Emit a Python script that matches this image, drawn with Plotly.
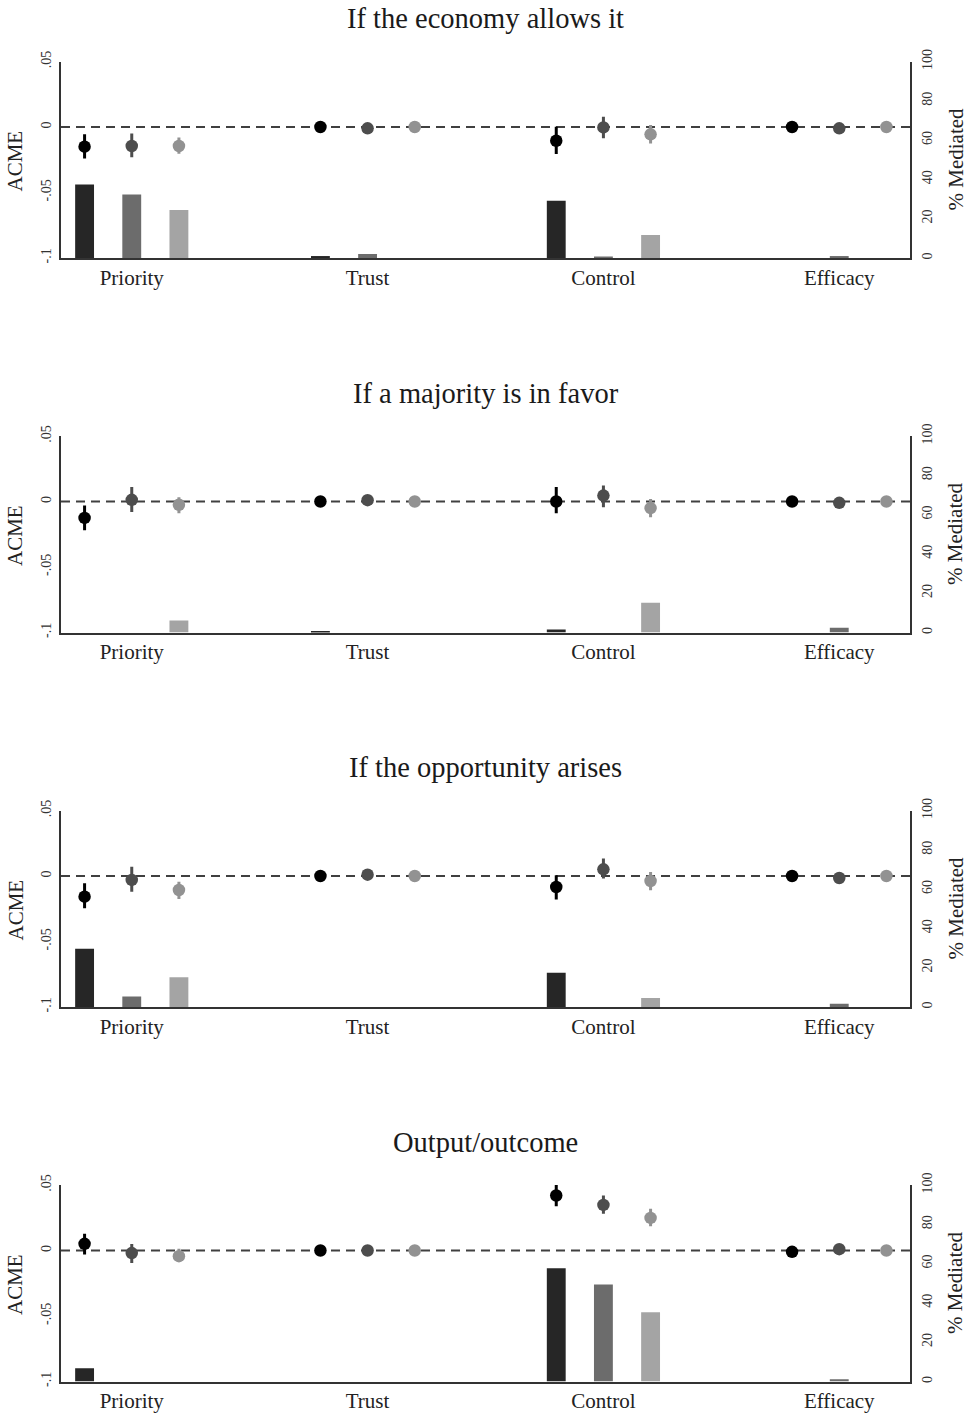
import plotly.graph_objects as go

# ---------------- data ----------------
panel_titles = ["If the economy allows it", "If a majority is in favor",
                "If the opportunity arises", "Output/outcome"]
categories = ["Priority", "Trust", "Control", "Efficacy"]
series_names = ["Model 1", "Model 2", "Model 3"]

# ACME estimates / lower / upper / % mediated  (rows = series black, dark, light; cols = categories)
econ_est = [[-0.015, 0.000, -0.0105, 0.000],
            [-0.0145, -0.001, -0.0003, -0.001],
            [-0.0145, 0.000, -0.0056, 0.000]]
econ_lo = [[-0.024, -0.001, -0.0206, -0.001],
           [-0.023, -0.002, -0.0086, -0.002],
           [-0.0205, -0.001, -0.0125, -0.001]]
econ_hi = [[-0.0056, 0.001, 0.0002, 0.001],
           [-0.005, 0.000, 0.0079, 0.000],
           [-0.008, 0.001, 0.0015, 0.001]]
econ_pct = [[37.4, 1.0, 29.1, 0.0],
            [32.3, 2.0, 0.7, 1.0],
            [24.4, 0.0, 11.7, 0.0]]

major_est = [[-0.0125, 0.000, 0.000, 0.000],
             [0.0013, 0.001, 0.0045, -0.001],
             [-0.0025, 0.000, -0.005, 0.000]]
major_lo = [[-0.022, -0.001, -0.009, -0.001],
            [-0.008, 0.000, -0.0043, -0.002],
            [-0.009, -0.001, -0.012, -0.001]]
major_hi = [[-0.003, 0.001, 0.011, 0.001],
            [0.011, 0.002, 0.0122, 0.000],
            [0.0033, 0.001, 0.002, 0.001]]
major_pct = [[0.0, 0.5, 1.5, 0.0],
             [0.0, 0.0, 0.0, 2.4],
             [6.1, 0.0, 15.1, 0.0]]

opp_est = [[-0.0158, 0.000, -0.0084, 0.000],
           [-0.003, 0.001, 0.0051, -0.0015],
           [-0.0107, 0.000, -0.0038, 0.000]]
opp_lo = [[-0.0246, -0.001, -0.018, -0.001],
          [-0.012, 0.000, -0.002, -0.0025],
          [-0.0176, -0.001, -0.0109, -0.001]]
opp_hi = [[-0.0056, 0.001, 0.0005, 0.001],
          [0.007, 0.002, 0.0133, -0.0005],
          [-0.0043, 0.001, 0.003, 0.001]]
opp_pct = [[29.6, 0.0, 17.4, 0.0],
           [5.4, 0.0, 0.0, 1.7],
           [15.2, 0.0, 4.6, 0.0]]

out_est = [[0.0051, 0.000, 0.042, -0.001],
           [-0.002, 0.000, 0.0348, 0.001],
           [-0.0043, 0.000, 0.0249, 0.000]]
out_lo = [[-0.003, -0.001, 0.0338, -0.002],
          [-0.0096, -0.001, 0.028, 0.000],
          [-0.0088, -0.001, 0.0186, -0.001]]
out_hi = [[0.0127, 0.001, 0.0509, 0.000],
          [0.005, 0.001, 0.042, 0.002],
          [0.0013, 0.001, 0.0318, 0.001]]
out_pct = [[6.8, 0.0, 57.6, 0.0],
           [0.0, 0.0, 49.4, 1.2],
           [0.0, 0.0, 35.2, 0.0]]

acme_ticks = [-0.1, -0.05, 0, 0.05]
acme_ticktext = ["-.1", "-.05", "0", ".05"]
pct_ticks = [0, 20, 40, 60, 80, 100]

panels = [(econ_est, econ_lo, econ_hi, econ_pct),
          (major_est, major_lo, major_hi, major_pct),
          (opp_est, opp_lo, opp_hi, opp_pct),
          (out_est, out_lo, out_hi, out_pct)]

# ---------------- style ----------------
W, H = 970, 1415
FONT = "Liberation Serif"
point_colors = ["#000000", "#4d4d4d", "#929292"]
bar_colors = ["#262626", "#6c6c6c", "#a4a4a4"]
offsets = [-0.2, 0.0, 0.2]
axis_color = "#333333"

x0_px, x1_px = 61, 910
panel_top0, panel_h, panel_step = 61.5, 196.5, 374.5

fig = go.Figure()
layout = dict(width=W, height=H, margin=dict(l=0, r=0, t=0, b=0, autoexpand=False),
              paper_bgcolor="white", plot_bgcolor="white",
              showlegend=False, barmode="overlay",
              font=dict(family=FONT, color="#222222"))
annotations = []
shapes = []

for k, (est, lo, hi, pct) in enumerate(panels):
    top = panel_top0 + k * panel_step
    bot = top + panel_h
    ydom = [1 - bot / H, 1 - top / H]
    xname = "x" if k == 0 else f"x{k+1}"
    yl = 2 * k + 1
    yr = 2 * k + 2
    ylname = "y" if yl == 1 else f"y{yl}"
    yrname = f"y{yr}"

    layout["xaxis" if k == 0 else f"xaxis{k+1}"] = dict(
        domain=[x0_px / W, x1_px / W], anchor=ylname, range=[-0.3, 3.3],
        tickvals=list(range(len(categories))), ticktext=categories,
        showline=True, linecolor=axis_color, linewidth=1.5, ticks="",
        showgrid=False, zeroline=False, automargin=False,
        tickfont=dict(size=21, family=FONT, color="#222"),
        ticklabelstandoff=0)
    layout["yaxis" if yl == 1 else f"yaxis{yl}"] = dict(
        domain=ydom, anchor=xname, range=[-0.1, 0.05],
        tickvals=acme_ticks, ticktext=acme_ticktext, tickangle=-90,
        showline=True, linecolor=axis_color, linewidth=1.5, ticks="",
        showgrid=False, zeroline=False, automargin=False,
        tickfont=dict(size=14, family=FONT, color="#333"),
        ticklabelstandoff=3)
    layout[f"yaxis{yr}"] = dict(
        overlaying=ylname, side="right", anchor=xname, range=[0, 100],
        tickvals=pct_ticks, tickangle=-90,
        showline=True, linecolor=axis_color, linewidth=1.5, ticks="",
        showgrid=False, zeroline=False, automargin=False,
        tickfont=dict(size=14, family=FONT, color="#333"),
        ticklabelstandoff=3)

    # bars (% mediated) on right axis
    for s in range(3):
        fig.add_trace(go.Bar(
            x=[i + offsets[s] for i in range(len(categories))], y=pct[s],
            width=0.08, marker=dict(color=bar_colors[s], line=dict(width=0)),
            xaxis=xname, yaxis=yrname, name=series_names[s], hoverinfo="skip"))
    # ACME points with CIs on left axis
    for s in range(3):
        fig.add_trace(go.Scatter(
            x=[i + offsets[s] for i in range(len(categories))], y=est[s],
            mode="markers",
            marker=dict(color=point_colors[s], size=12.5, line=dict(width=0)),
            error_y=dict(type="data", symmetric=False,
                         array=[h - e for h, e in zip(hi[s], est[s])],
                         arrayminus=[e - l for e, l in zip(est[s], lo[s])],
                         thickness=3, width=0, color=point_colors[s]),
            xaxis=xname, yaxis=ylname, name=series_names[s]))

    # zero reference line
    shapes.append(dict(type="line", xref=f"{xname} domain", x0=0, x1=1,
                       yref=ylname, y0=0, y1=0, layer="below",
                       line=dict(color="#404040", width=2.2, dash="9px,6px")))

    # titles
    annotations.append(dict(text=panel_titles[k], xref="paper", yref="paper",
                            x=(x0_px + x1_px) / 2 / W, y=1 - (top - 43) / H,
                            showarrow=False, xanchor="center", yanchor="middle",
                            font=dict(size=28.5, family=FONT, color="#1a1a1a")))
    annotations.append(dict(text="ACME", xref="paper", yref="paper",
                            x=15 / W, y=1 - (top + 100) / H, textangle=-90,
                            showarrow=False, xanchor="center", yanchor="middle",
                            font=dict(size=21, family=FONT, color="#222")))
    annotations.append(dict(text="% Mediated", xref="paper", yref="paper",
                            x=955 / W, y=1 - (top + 98) / H, textangle=-90,
                            showarrow=False, xanchor="center", yanchor="middle",
                            font=dict(size=21, family=FONT, color="#222")))

layout["annotations"] = annotations
layout["shapes"] = shapes
fig.update_layout(**layout)
fig.write_html("out.html", config={"displayModeBar": False},
               post_script="document.body.style.margin='0';document.body.style.overflow='hidden';")
